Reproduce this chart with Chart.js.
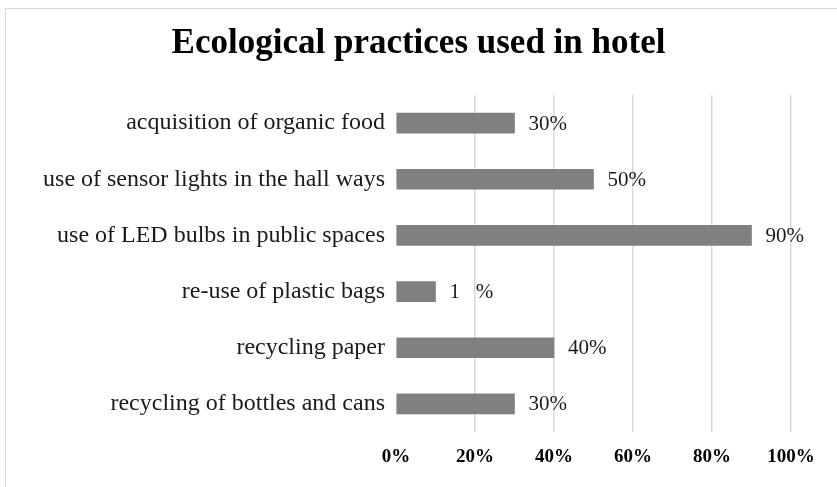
<!DOCTYPE html>
<html>
<head>
<meta charset="utf-8">
<script src="https://cdn.jsdelivr.net/npm/chart.js@4/dist/chart.umd.min.js"></script>
<style>
  html, body { margin: 0; padding: 0; background: #fff; }
  #wrap { width: 837px; height: 487px; }
</style>
</head>
<body>
<div id="wrap"><canvas id="ecoChart" width="837" height="487"></canvas></div>
<script>
// ==========================================
// Data
// ==========================================
const categories = [
    'acquisition of organic food',
    'use of sensor lights in the hall ways',
    'use of LED bulbs in public spaces',
    're-use of plastic bags',
    'recycling paper',
    'recycling of bottles and cans'
];
const shares = [30, 50, 90, 10, 40, 30];
const shareLabels = ['30%', '50%', '90%', '1   %', '40%', '30%'];
const xTicks = [0, 20, 40, 60, 80, 100];

const SERIF = '"Liberation Serif", "Times New Roman", serif';
const BAR = '#808080';

// 바 끝에 값 라벨
const valueLabels = {
    id: 'valueLabels',
    afterDatasetsDraw(chart) {
        const ctx = chart.ctx;
        const meta = chart.getDatasetMeta(0);
        ctx.save();
        ctx.font = '21px ' + SERIF;
        ctx.fillStyle = '#1a1a1a';
        ctx.textBaseline = 'middle';
        ctx.textAlign = 'left';
        meta.data.forEach((bar, i) => {
            ctx.fillText(shareLabels[i], bar.x + 14, bar.y + 1);
        });
        ctx.restore();
    }
};

// 바깥 테두리
const frame = {
    id: 'frame',
    beforeDraw(chart) {
        const ctx = chart.ctx;
        ctx.save();
        ctx.strokeStyle = '#d9d9d9';
        ctx.lineWidth = 1;
        ctx.strokeRect(5.5, 8.5, 840, 490);
        ctx.restore();
    }
};

new Chart(document.getElementById('ecoChart'), {
    type: 'bar',
    data: {
        labels: categories,
        datasets: [{
            data: shares,
            backgroundColor: BAR,
            borderWidth: 0,
            barThickness: 20
        }]
    },
    plugins: [frame, valueLabels],
    options: {
        indexAxis: 'y',
        responsive: false,
        animation: false,
        layout: { padding: { left: 0, right: 0, top: 10, bottom: 15 } },
        scales: {
            x: {
                min: 0, max: 100,
                afterBuildTicks: (axis) => { axis.ticks = xTicks.map(v => ({ value: v })); },
                afterFit: (axis) => { axis.height = 40; },
                grid: {
                    color: (c) => c.index === 0 ? 'rgba(0,0,0,0)' : '#d9d9d9',
                    drawTicks: false,
                    lineWidth: 1.5
                },
                border: { display: false },
                ticks: {
                    padding: 14,
                    color: '#000',
                    font: { family: SERIF, size: 19, weight: 'bold' },
                    callback: (v) => v + '%'
                }
            },
            y: {
                afterFit: (axis) => { axis.width = 396; },
                grid: { display: false, drawTicks: false },
                border: { display: false },
                ticks: {
                    padding: 11,
                    color: '#1a1a1a',
                    font: { family: SERIF, size: 24 }
                }
            },
            // 오른쪽 여백용 빈 축
            yRight: {
                type: 'category',
                axis: 'y',
                position: 'right',
                afterFit: (axis) => { axis.width = 46; },
                grid: { display: false, drawTicks: false },
                border: { display: false },
                ticks: { display: false }
            }
        },
        plugins: {
            legend: { display: false },
            tooltip: { enabled: false },
            title: {
                display: true,
                text: 'Ecological practices used in hotel',
                color: '#000',
                font: { family: SERIF, size: 35, weight: 'bold' },
                padding: { top: 13, bottom: 30 }
            }
        }
    }
});
</script>
</body>
</html>
